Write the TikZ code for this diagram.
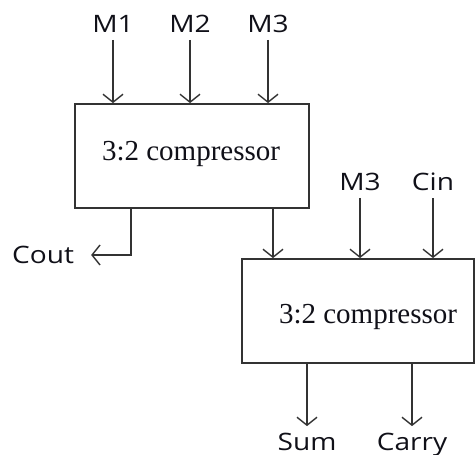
\documentclass[tikz,border=0pt]{standalone}
\usepackage{fontspec}
\setmainfont{Liberation Serif}
\newfontfamily\lblfont[FakeStretch=1.17]{Open Sans}
\usetikzlibrary{arrows.meta}
\definecolor{linec}{HTML}{333333}
\definecolor{txtc}{HTML}{101018}
\tikzset{
  wire/.style={draw=linec, line width=1.5pt, -{Straight Barb[length=8pt,width=20pt,line width=1.4pt]}},
  compbox/.style={draw=linec, line width=1.8pt, minimum width=232pt, minimum height=104pt, inner sep=0pt},
  boxtext/.style={font=\fontsize{29}{30}\selectfont, text=txtc, inner sep=0pt},
  lbl/.style={font=\lblfont\fontsize{24}{26}\selectfont, text=txtc, inner xsep=0pt, inner ysep=7pt, text depth=0pt}
}
\begin{document}
\begin{tikzpicture}[x=1pt,y=-1pt]
\useasboundingbox (0,0) rectangle (475,455);
% boxes
\node[compbox, minimum width=234pt] (c1) at (192,156) {};
\node[boxtext] (t1) at (191,154) {3:2 compressor};
\node[compbox] (c2) at (358,311) {};
\node[boxtext] (t2) at (368,317) {3:2 compressor};
% top labels
\node[lbl] (m1) at (113,24) {M1};
\node[lbl] (m2) at (190,24) {M2};
\node[lbl] (m3) at (268,24) {M3};
\node[lbl] (m3b) at (360,182) {M3};
\node[lbl] (cin) at (433,182) {Cin};
% bottom labels
\node[lbl] (cout) at (43,255) {Cout};
\node[lbl] (sum) at (307,442) {Sum};
\node[lbl] (carry) at (412,442) {Carry};
% coordinates
\coordinate (co) at (131,208);
\coordinate (mid) at (273,208);
\coordinate (s2) at (307,363);
\coordinate (k2) at (412,363);
% inputs
\draw[wire] (m1.south) -- (m1.south |- c1.north);
\draw[wire] (m2.south) -- (m2.south |- c1.north);
\draw[wire] (m3.south) -- (m3.south |- c1.north);
\draw[wire] (m3b.south) -- (m3b.south |- c2.north);
\draw[wire] (cin.south) -- (cin.south |- c2.north);
% between
\draw[wire] (mid) -- (mid |- c2.north);
\draw[wire, shorten >=17pt] (co) |- (cout.east);
% outputs
\draw[wire] (s2) -- (sum.north);
\draw[wire] (k2) -- (carry.north);
\end{tikzpicture}
\end{document}
